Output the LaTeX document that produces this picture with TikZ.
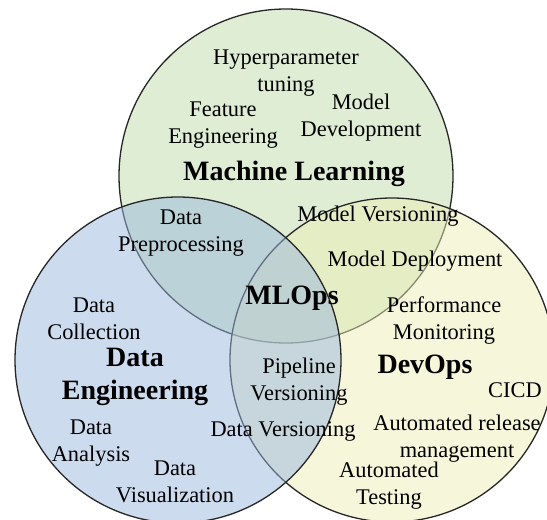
\documentclass[tikz,border=0pt]{standalone}
\usepackage{fontspec}
\setmainfont{Liberation Serif}
\begin{document}
\begin{tikzpicture}[x=0.5pt,y=-0.5pt]
  \tikzset{
    item/.style={align=center,inner sep=0pt,font=\fontsize{11.2}{13.5}\selectfont},
    field/.style={item,font=\bfseries\fontsize{14}{16.5}\selectfont},
    ring/.style={draw=black!85,line width=0.65pt,fill opacity=0.5},
  }
  \definecolor{mlgreen}{RGB}{191,219,170}
  \definecolor{deblue}{RGB}{153,183,221}
  \definecolor{opsyellow}{RGB}{237,237,183}
  \useasboundingbox (0,0) rectangle (547,520);
  \clip (0,0) rectangle (547,520);
  \draw[ring,fill=mlgreen] (286,176) circle[radius=167];
  \draw[ring,fill=opsyellow] (392,360) circle[radius=162];
  \draw[ring,fill=deblue] (178,360) circle[radius=163];
  % machine learning
  \node[item] (hyper) at (286,73) {Hyperparameter\\tuning};
  \node[item] (feature) at (223,125) {Feature\\Engineering};
  \node[item] (develop) at (361,118) {Model\\Development};
  \node[field] (ml) at (294,174) {Machine Learning};
  % data engineering
  \node[item] (prep) at (181,233) {Data\\Preprocessing};
  \node[item] (collect) at (94,319) {Data\\Collection};
  \node[field] (de) at (135,377) {Data\\Engineering};
  \node[item] (analysis) at (91,443) {Data\\Analysis};
  \node[item] (visual) at (175,482) {Data\\Visualization};
  \node[item] (dataver) at (283,431) {Data Versioning};
  % devops
  \node[item] (modelver) at (378,216) {Model Versioning};
  \node[item] (deploy) at (415,261) {Model Deployment};
  \node[field] (mlops) at (292,298) {MLOps};
  \node[item] (perf) at (444,321) {Performance\\Monitoring};
  \node[item] (pipe) at (299,382) {Pipeline\\Versioning};
  \node[field] (devops) at (425,367) {DevOps};
  \node[item] (cicd) at (515,390) {CICD};
  \node[item] (release) at (457,439) {Automated release\\management};
  \node[item] (testing) at (389,486) {Automated\\Testing};
\end{tikzpicture}
\end{document}
